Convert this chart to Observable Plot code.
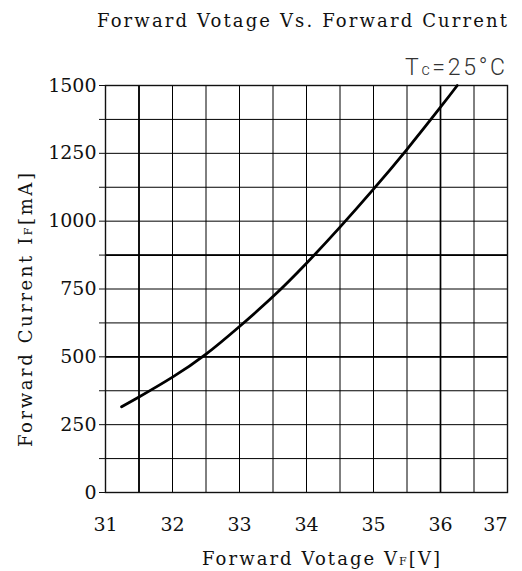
<!DOCTYPE html>
<html>
<head>
<meta charset="utf-8">
<script src="https://cdn.jsdelivr.net/npm/d3@7"></script>
<script src="https://cdn.jsdelivr.net/npm/@observablehq/plot@0.6"></script>
<style>
  html, body { margin: 0; padding: 0; background: #fff; }
  svg { display: block; }
</style>
</head>
<body>
<div id="chart"></div>
<script>
// Forward voltage (V) vs forward current (mA)
const voltage = [31.24, 31.5, 32, 32.5, 33, 33.5, 34, 34.5, 35, 35.5, 36, 36.25];
const current = [316, 352, 425, 510, 612, 722, 845, 978, 1118, 1265, 1420, 1500];

// axis tick labels
const xTicks = [31, 32, 33, 34, 35, 36, 37];
const yTicks = [0, 250, 500, 750, 1000, 1250, 1500];

// grid line positions
const xGrid = [31, 31.5, 32, 32.5, 33, 33.5, 34, 34.5, 35, 35.5, 36, 36.5, 37];
const yGrid = [0, 125, 250, 375, 500, 625, 750, 875, 1000, 1125, 1250, 1375, 1500];
const xGridBold = [31.5, 36];
const yGridBold = [500, 875];

const titleText = "Forward Votage Vs. Forward Current";

const data = voltage.map((v, i) => ({v, i: current[i]}));
const serif = "'DejaVu Serif', serif";

const chart = Plot.plot({
  width: 522,
  height: 571,
  marginLeft: 105,
  marginRight: 15,
  marginTop: 85,
  marginBottom: 79,
  x: {domain: [31, 37]},
  y: {domain: [0, 1500]},
  style: {fontFamily: serif, fontSize: "19px", color: "#111", background: "#fff"},
  marks: [
    Plot.ruleX(xGrid, {stroke: "#000", strokeWidth: 1}),
    Plot.ruleY(yGrid, {stroke: "#000", strokeWidth: 1}),
    Plot.ruleX(xGridBold, {stroke: "#000", strokeWidth: 1.7}),
    Plot.ruleY(yGridBold, {stroke: "#000", strokeWidth: 1.7}),
    Plot.frame({stroke: "#111", strokeWidth: 1.4}),
    Plot.line(data, {x: "v", y: "i", curve: "natural", stroke: "#000", strokeWidth: 2.8}),
    Plot.axisY(yGrid, {tickSize: 6, tickPadding: 3, stroke: "#111", fontFamily: serif, fontSize: 19,
      tickFormat: d => yTicks.includes(d) ? String(d) : "", label: null}),
    Plot.axisX(xTicks.filter(d => d !== 37), {tickSize: 0, tickPadding: 25, fontFamily: serif, fontSize: 19, label: null}),
    Plot.axisX(xTicks.filter(d => d === 37), {tickSize: 0, tickPadding: 25, fontFamily: serif, fontSize: 19, textAnchor: "end", label: null})
  ]
});

document.getElementById("chart").appendChild(chart);

const svg = d3.select(chart);
svg.selectAll("text").attr("font-family", serif);

// title
svg.append("text")
  .attr("x", 97).attr("y", 27)
  .attr("text-anchor", "start")
  .attr("font-family", serif).attr("font-size", 18)
  .attr("fill", "#111")
  .attr("textLength", 410).attr("lengthAdjust", "spacing")
  .text(titleText);

// condition
const tc = svg.append("text")
  .attr("x", 405).attr("y", 75)
  .attr("text-anchor", "start")
  .attr("font-family", "Roboto, 'DejaVu Sans', sans-serif").attr("font-weight", 300)
  .attr("font-size", 23).attr("fill", "#333")
  .attr("textLength", 100).attr("lengthAdjust", "spacing");
tc.append("tspan").text("T");
tc.append("tspan").attr("font-size", 16).text("c");
tc.append("tspan").text("=25°C");

// y-axis label
const yl = svg.append("text")
  .attr("transform", "translate(32,310) rotate(-90)")
  .attr("text-anchor", "middle")
  .attr("font-family", serif).attr("font-size", 18).attr("fill", "#111")
  .attr("textLength", 274).attr("lengthAdjust", "spacing");
yl.append("tspan").text("Forward Current I");
yl.append("tspan").attr("font-size", 11).text("F");
yl.append("tspan").text("[mA]");

// x-axis label
const xl = svg.append("text")
  .attr("x", 321).attr("y", 565)
  .attr("text-anchor", "middle")
  .attr("font-family", serif).attr("font-size", 18).attr("fill", "#111")
  .attr("textLength", 238).attr("lengthAdjust", "spacing");
xl.append("tspan").text("Forward Votage V");
xl.append("tspan").attr("font-size", 11).text("F");
xl.append("tspan").text("[V]");
</script>
</body>
</html>
